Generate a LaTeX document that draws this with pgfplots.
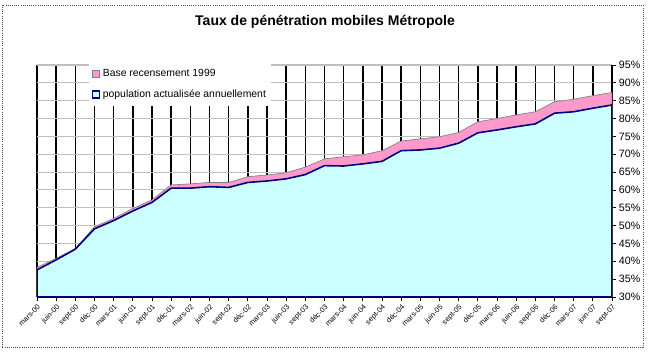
\documentclass[border=0pt]{standalone}
\usepackage{pgfplots}
\pgfplotsset{compat=1.18}
\usepackage{fontspec}
\setmainfont{Liberation Sans}
\definecolor{pinkA}{HTML}{FF99CC}
\definecolor{cyanA}{HTML}{CCFFFF}
\definecolor{navyA}{HTML}{000080}
\begin{document}
\begin{tikzpicture}[x=0.75pt,y=0.75pt]
\useasboundingbox (0,0) rectangle (650,353);
\draw[densely dotted, black!70, line width=0.6pt] (2,6) rectangle (643,348);
\node[font=\bfseries\fontsize{10.5}{12}\selectfont] at (325,331) {Taux de pénétration mobiles Métropole};
\begin{axis}[
  at={(27.75pt,42pt)}, anchor=south west,
  scale only axis, width=431.25pt, height=174pt,
  xmin=0, xmax=30, ymin=30, ymax=95,
  axis x line*=bottom, axis y line*=right,
  axis line style={black, line width=0.8pt},
  tick align=outside,
  major tick length=3pt,
  tick style={black, line width=0.6pt},
  xtick={0,...,30},
  xticklabels={mars-00,juin-00,sept-00,déc-00,mars-01,juin-01,sept-01,déc-01,mars-02,juin-02,sept-02,déc-02,mars-03,juin-03,sept-03,déc-03,mars-04,juin-04,sept-04,déc-04,mars-05,juin-05,sept-05,déc-05,mars-06,juin-06,sept-06,déc-06,mars-07,juin-07,sept-07},
  x tick label style={rotate=45, anchor=north east, font=\fontsize{5.5}{6}\selectfont, inner sep=1.5pt},
  ytick={30,35,...,95},
  yticklabel={\pgfmathprintnumber{\tick}\%},
  y tick label style={font=\fontsize{8}{9}\selectfont, inner sep=2pt},
  /pgf/number format/assume math mode=true,
  xmajorgrids, ymajorgrids,
  x grid style={black, line width=1.2pt},
  y grid style={black!25, line width=0.8pt},
  legend style={at={(axis description cs:0.09,1.012)}, anchor=north west, draw=none, fill=white,
    font=\fontsize{7.8}{9}\selectfont, row sep=4.5pt, inner xsep=2pt, inner ysep=3pt},
  legend cell align=left,
  legend image code/.code={\draw[#1] (0pt,-2.6pt) rectangle (5.2pt,2.6pt);},
]
\addplot[fill=pinkA, draw=gray, line width=0.5pt] coordinates {
(0,38.3)(1,40.8)(2,43.6)(3,49.7)(4,52.0)(5,54.8)(6,57.2)(7,61.4)(8,61.7)(9,62.1)(10,62.1)
(11,63.7)(12,64.2)(13,64.8)(14,66.4)(15,68.7)(16,69.3)(17,69.8)(18,71.0)(19,73.7)(20,74.3)
(21,74.9)(22,76.1)(23,79.1)(24,80.0)(25,81.0)(26,81.9)(27,84.7)(28,85.4)(29,86.4)(30,87.3)
} \closedcycle;
\addlegendentry{Base recensement 1999}
\addplot[fill=cyanA, draw=navyA, line width=1.2pt] coordinates {
(0,37.6)(1,40.4)(2,43.4)(3,49.1)(4,51.4)(5,54.1)(6,56.5)(7,60.5)(8,60.5)(9,60.9)(10,60.7)
(11,62.1)(12,62.5)(13,63.1)(14,64.3)(15,66.8)(16,66.7)(17,67.3)(18,68.0)(19,71.0)(20,71.2)
(21,71.7)(22,73.1)(23,76.0)(24,76.8)(25,77.7)(26,78.5)(27,81.5)(28,81.9)(29,82.9)(30,83.8)
} \closedcycle;
\addlegendentry{population actualisée annuellement}
\end{axis}
\end{tikzpicture}
\end{document}
